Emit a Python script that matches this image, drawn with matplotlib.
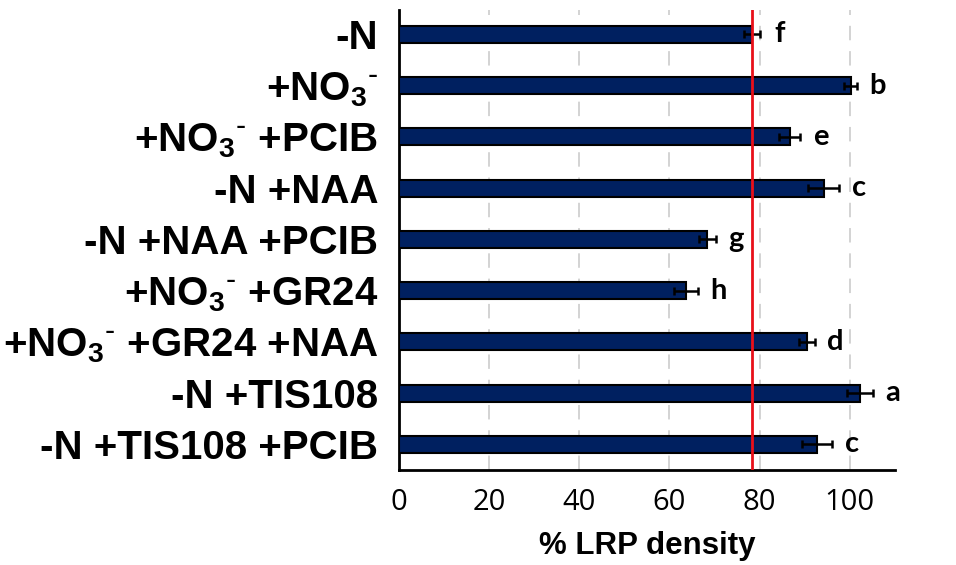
import matplotlib
matplotlib.use("Agg")
import matplotlib.pyplot as plt
import numpy as np

# treatments, top to bottom
labels = [
    "-N",
    r"+NO$_3$$^{\text{-}}$",
    r"+NO$_3$$^{\text{-}}$ +PCIB",
    "-N +NAA",
    "-N +NAA +PCIB",
    r"+NO$_3$$^{\text{-}}$ +GR24",
    r"+NO$_3$$^{\text{-}}$ +GR24 +NAA",
    "-N +TIS108",
    "-N +TIS108 +PCIB",
]
values = [78.3, 100.2, 86.7, 94.2, 68.4, 63.6, 90.5, 102.2, 92.7]
errors = [1.7, 1.5, 2.3, 3.4, 1.9, 2.7, 1.7, 2.9, 3.3]
letters = ["f", "b", "e", "c", "g", "h", "d", "a", "c"]
ref_value = 78.4  # -N reference line
xticks = [0, 20, 40, 60, 80, 100]

plt.rcParams["mathtext.fontset"] = "custom"
plt.rcParams["mathtext.default"] = "regular"

fig = plt.figure(figsize=(9.56, 5.65), dpi=100)
ax = fig.add_axes([0.4174, 0.168, 0.5186, 0.814])

y = np.arange(len(labels))
ax.barh(y, values, height=0.33, color="#002060", edgecolor="black", linewidth=1.5,
        xerr=errors, error_kw=dict(ecolor="black", elinewidth=1.8, capsize=3, capthick=1.8),
        zorder=3)

for yi, v, e, let in zip(y, values, errors, letters):
    ax.text(v + e + 4.5, yi, let, ha="center", va="center", fontsize=21,
            fontfamily="Lato", fontweight="bold", zorder=4)

ax.axvline(ref_value, color="#e8101a", linewidth=2, zorder=5)

ax.set_xlim(0, 110)
ax.set_ylim(len(labels) - 0.5, -0.47)
ax.set_xticks(xticks)
ax.set_yticks(y)
ax.set_yticklabels(labels, fontfamily="Liberation Sans", fontweight="bold", fontsize=29)
for t in ax.get_xticklabels():
    t.set_fontfamily("Open Sans")
    t.set_fontsize(21)
ax.tick_params(axis="y", length=0, pad=15)
ax.tick_params(axis="x", length=0, pad=13)

ax.grid(axis="x", color="#d0d0d0", linestyle=(0, (8, 6)), linewidth=1.3, zorder=0)
for s in ["top", "right"]:
    ax.spines[s].set_visible(False)
ax.spines["left"].set_linewidth(2)
ax.spines["bottom"].set_linewidth(2)

ax.set_xlabel("% LRP density", fontfamily="Liberation Sans", fontweight="bold",
              fontsize=22.5, labelpad=10)

fig.savefig("out.png", dpi=100)
